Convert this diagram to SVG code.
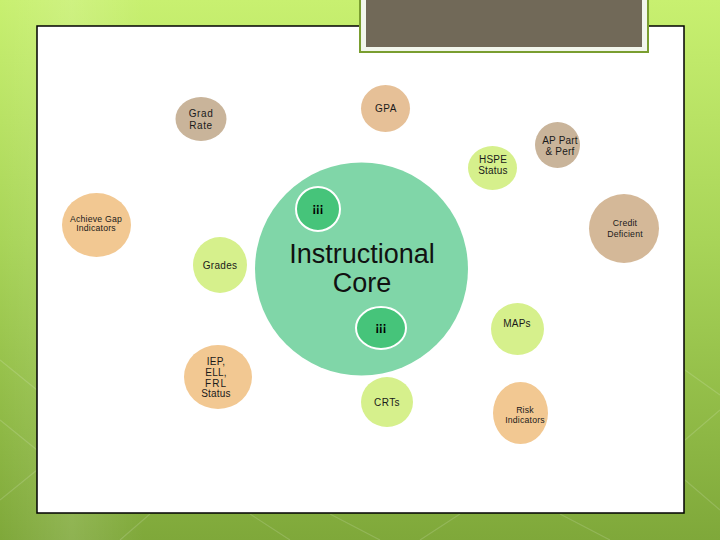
<svg xmlns="http://www.w3.org/2000/svg" width="720" height="540" viewBox="0 0 720 540">
<defs>
<linearGradient id="bg" x1="0" y1="0" x2="0" y2="1">
<stop offset="0" stop-color="#c8f070"/>
<stop offset="0.45" stop-color="#a8d458"/>
<stop offset="1" stop-color="#7fa83a"/>
</linearGradient>
<linearGradient id="side" x1="0" y1="0" x2="1" y2="0">
<stop offset="0" stop-color="#ffffff" stop-opacity="0"/>
<stop offset="0.1" stop-color="#ffffff" stop-opacity="0.12"/>
<stop offset="0.2" stop-color="#ffffff" stop-opacity="0"/>
<stop offset="1" stop-color="#ffffff" stop-opacity="0"/>
</linearGradient>
</defs>
<style>
.lbl{font-family:"Liberation Sans",Arial,sans-serif;font-size:10px;fill:#1a1a1a;text-anchor:middle;letter-spacing:0.6px}
.sm{font-size:8.7px;letter-spacing:0.2px}
.big{font-family:"Liberation Sans",Arial,sans-serif;font-size:27px;fill:#111;text-anchor:middle}
.ico{font-family:"Liberation Sans",Arial,sans-serif;font-size:12px;font-weight:bold;fill:#000;text-anchor:middle;letter-spacing:-0.3px}
.tan{fill:#c9b49a}
.peach{fill:#f2c892}
.gpa{fill:#e6c097}
.lime{fill:#d6f08c}
.deco{stroke:#ffffff;stroke-opacity:0.15;stroke-width:1.2;fill:none}
</style>
<rect width="720" height="540" fill="url(#bg)"/>
<rect width="720" height="540" fill="url(#side)"/>
<g class="deco">
<path d="M0 420 L37 450 M0 500 L37 470 M685 440 L720 410 M685 480 L720 510 M150 514 L120 540 M330 514 L380 540 M420 540 L460 514 M560 514 L610 540 M250 514 L290 540"/>
<path d="M0 360 L37 390 M685 370 L720 395"/>
</g>
<rect x="37" y="26" width="647" height="487" fill="#ffffff" stroke="#000" stroke-width="1.5"/>
<rect x="360" y="-2" width="288" height="54" fill="#f2f6ec" stroke="#7a9e30" stroke-width="2"/>
<rect x="366" y="-2" width="276" height="49" fill="#716958"/>
<g id="connectors"></g>
<g id="core">
<circle cx="361.5" cy="269" r="106.5" fill="#80d6a8"/>
<text class="big" x="362" y="263">Instructional</text>
<text class="big" x="362" y="292">Core</text>
</g>
<g id="icon-top">
<circle cx="318" cy="209" r="22" fill="#46c47a" stroke="#ffffff" stroke-width="2"/>
<text class="ico" transform="rotate(180 318 209)" x="318" y="213">!!!</text>
</g>
<g id="icon-bottom">
<ellipse cx="381" cy="328" rx="25" ry="21" fill="#46c47a" stroke="#ffffff" stroke-width="2"/>
<text class="ico" transform="rotate(180 381 328)" x="381" y="332">!!!</text>
</g>
<g id="grad-rate">
<ellipse class="tan" cx="201" cy="119" rx="25.5" ry="22"/>
<text class="lbl" x="201" y="117">Grad</text>
<text class="lbl" x="201" y="129">Rate</text>
</g>
<g id="gpa">
<ellipse class="gpa" cx="385.5" cy="108.5" rx="24.5" ry="23.5"/>
<text class="lbl" x="386" y="112">GPA</text>
</g>
<g id="hspe">
<ellipse class="lime" cx="492.5" cy="168" rx="24.5" ry="22"/>
<text class="lbl" x="493" y="163" style="letter-spacing:0.2px">HSPE</text>
<text class="lbl" x="493" y="174" style="letter-spacing:0.2px">Status</text>
</g>
<g id="ap">
<ellipse class="tan" cx="557.5" cy="145" rx="22.5" ry="23"/>
<text class="lbl" x="560" y="144" style="letter-spacing:0.2px">AP Part</text>
<text class="lbl" x="560" y="155" style="letter-spacing:0.2px">&amp; Perf</text>
</g>
<g id="achieve">
<ellipse class="peach" cx="96.5" cy="225" rx="34.5" ry="32"/>
<text class="lbl sm" x="96" y="222">Achieve Gap</text>
<text class="lbl sm" x="96" y="231">Indicators</text>
</g>
<g id="credit">
<ellipse fill="#d4b898" cx="624" cy="228.5" rx="35" ry="34.5"/>
<text class="lbl sm" x="625" y="226">Credit</text>
<text class="lbl sm" x="625" y="237">Deficient</text>
</g>
<g id="grades">
<ellipse class="lime" cx="220" cy="265" rx="27" ry="28"/>
<text class="lbl" x="220" y="269" style="letter-spacing:0.3px">Grades</text>
</g>
<g id="maps">
<ellipse class="lime" cx="517.5" cy="329" rx="26.5" ry="26"/>
<text class="lbl" x="517" y="327" style="letter-spacing:0.2px">MAPs</text>
</g>
<g id="iep">
<ellipse class="peach" cx="218" cy="377" rx="34" ry="32"/>
<text class="lbl" x="216" y="365" style="letter-spacing:0.2px">IEP,</text>
<text class="lbl" x="216" y="376" style="letter-spacing:0.2px">ELL,</text>
<text class="lbl" x="216" y="387" style="letter-spacing:1px">FRL</text>
<text class="lbl" x="216" y="397" style="letter-spacing:0.2px">Status</text>
</g>
<g id="crts">
<ellipse class="lime" cx="387" cy="402" rx="26" ry="25"/>
<text class="lbl" x="387" y="406" style="letter-spacing:0.4px">CRTs</text>
</g>
<g id="risk">
<ellipse class="peach" cx="520.5" cy="413" rx="27.5" ry="31"/>
<text class="lbl sm" x="525" y="413">Risk</text>
<text class="lbl sm" x="525" y="423">Indicators</text>
</g>
</svg>
